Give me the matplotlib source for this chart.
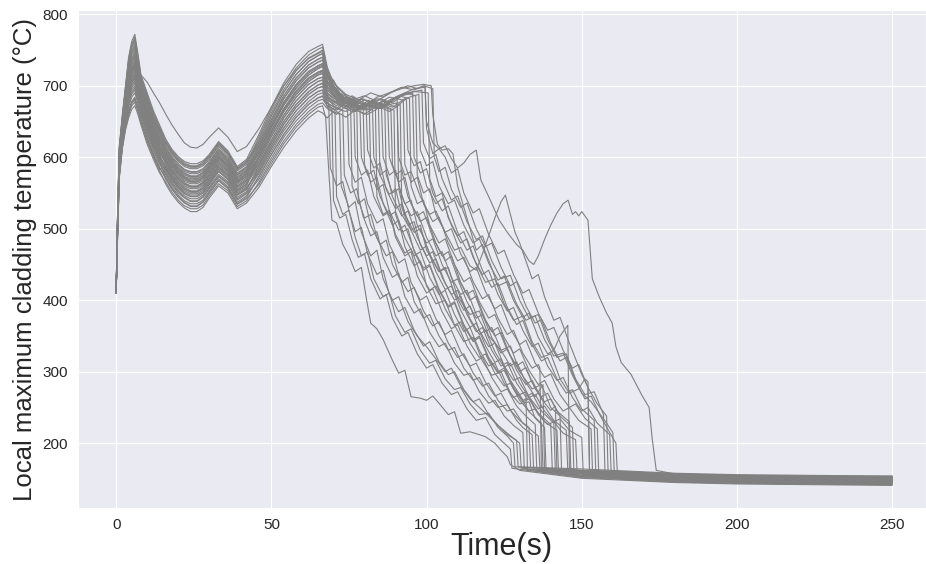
import matplotlib
matplotlib.use('Agg')
import matplotlib.pyplot as plt
import seaborn as sns

# time grid shared by all runs up to the second peak
early_t = [0, 0.3, 1, 2, 3, 4, 5, 6, 7, 8, 10, 12, 14, 16, 18, 20, 22, 24, 26, 28, 30, 33, 36, 39, 42, 46, 50, 54, 58, 62, 65]

# cladding temperature of each run on early_t
early_T = [
    [410, 465, 570, 612, 638, 655, 667, 672, 660, 645, 618, 597, 578, 565, 551, 540, 532, 528, 528, 533, 546, 563, 553, 531, 539, 565, 595, 623, 646, 664, 674],
    [410, 467, 572, 614, 641, 659, 672, 677, 664, 649, 622, 600, 581, 562, 548, 537, 529, 524, 524, 530, 543, 560, 550, 528, 536, 558, 587, 614, 637, 655, 665],
    [410, 468, 575, 617, 644, 664, 677, 682, 669, 652, 625, 604, 585, 572, 558, 547, 539, 535, 535, 540, 553, 570, 559, 537, 546, 573, 604, 632, 656, 674, 683],
    [410, 469, 575, 618, 645, 665, 678, 684, 670, 653, 627, 605, 586, 569, 555, 544, 536, 531, 531, 537, 549, 567, 556, 534, 542, 562, 591, 619, 642, 660, 670],
    [410, 470, 578, 621, 649, 670, 684, 690, 675, 658, 631, 609, 590, 577, 563, 552, 544, 539, 539, 545, 557, 574, 564, 542, 550, 580, 612, 641, 665, 683, 692],
    [410, 472, 580, 623, 652, 674, 688, 694, 679, 660, 634, 612, 593, 575, 561, 550, 543, 538, 538, 544, 556, 573, 562, 540, 549, 569, 599, 628, 651, 669, 679],
    [410, 473, 581, 624, 654, 676, 691, 697, 681, 663, 636, 614, 595, 582, 568, 557, 549, 545, 545, 550, 562, 580, 569, 547, 555, 588, 620, 650, 674, 692, 701],
    [410, 473, 583, 625, 655, 679, 694, 700, 684, 665, 638, 616, 597, 579, 565, 554, 546, 542, 542, 547, 559, 576, 566, 544, 552, 577, 608, 637, 660, 678, 688],
    [410, 475, 584, 627, 658, 682, 697, 704, 687, 667, 641, 619, 599, 585, 571, 560, 553, 549, 549, 554, 565, 583, 572, 550, 558, 580, 612, 641, 665, 683, 692],
    [410, 476, 586, 629, 660, 685, 700, 707, 690, 670, 643, 621, 601, 588, 574, 564, 556, 552, 552, 557, 569, 586, 575, 553, 562, 595, 629, 659, 684, 702, 710],
    [410, 476, 587, 630, 662, 687, 703, 710, 692, 672, 645, 623, 603, 584, 570, 559, 551, 547, 547, 552, 564, 581, 570, 548, 557, 584, 616, 646, 670, 688, 697],
    [410, 478, 589, 632, 664, 691, 707, 714, 696, 674, 648, 626, 606, 592, 578, 567, 560, 556, 556, 561, 572, 589, 578, 556, 565, 591, 624, 655, 679, 697, 706],
    [410, 479, 590, 634, 666, 693, 710, 717, 698, 677, 650, 628, 608, 595, 581, 571, 563, 559, 559, 564, 575, 593, 581, 559, 568, 602, 637, 668, 693, 711, 719],
    [410, 479, 592, 635, 668, 696, 713, 720, 701, 679, 653, 630, 610, 590, 576, 565, 558, 553, 553, 559, 570, 587, 576, 554, 563, 588, 620, 650, 674, 692, 701],
    [410, 480, 593, 636, 669, 698, 715, 722, 703, 680, 654, 631, 612, 598, 584, 574, 566, 563, 563, 567, 578, 596, 584, 562, 571, 595, 629, 659, 684, 702, 710],
    [410, 481, 594, 637, 671, 700, 717, 725, 705, 682, 656, 633, 614, 594, 580, 569, 562, 558, 558, 563, 574, 591, 580, 558, 567, 599, 633, 664, 688, 706, 715],
    [410, 482, 595, 639, 673, 703, 720, 728, 708, 684, 658, 635, 616, 602, 588, 577, 570, 566, 566, 571, 581, 599, 587, 565, 574, 606, 641, 673, 697, 715, 724],
    [410, 482, 596, 640, 674, 704, 722, 730, 709, 686, 660, 636, 617, 596, 582, 572, 564, 560, 560, 565, 576, 594, 582, 560, 569, 591, 624, 655, 679, 697, 706],
    [410, 484, 598, 642, 676, 708, 726, 734, 713, 688, 663, 639, 620, 605, 591, 581, 573, 570, 570, 574, 585, 602, 590, 568, 578, 610, 645, 677, 702, 720, 728],
    [410, 485, 599, 643, 678, 710, 729, 737, 715, 691, 665, 641, 622, 600, 586, 576, 568, 565, 565, 569, 580, 598, 586, 564, 573, 602, 637, 668, 693, 711, 719],
    [410, 485, 601, 645, 680, 713, 732, 740, 718, 693, 667, 643, 624, 608, 594, 584, 577, 573, 573, 578, 588, 606, 593, 571, 581, 614, 649, 682, 707, 725, 733],
    [410, 486, 602, 646, 681, 715, 734, 742, 720, 694, 668, 645, 625, 603, 589, 579, 571, 567, 567, 572, 583, 600, 588, 566, 576, 599, 633, 664, 688, 706, 715],
    [410, 487, 603, 647, 683, 717, 736, 745, 722, 696, 671, 647, 627, 612, 598, 587, 580, 577, 577, 581, 591, 609, 597, 575, 584, 617, 653, 686, 711, 729, 737],
    [410, 488, 604, 648, 685, 720, 739, 748, 725, 698, 673, 649, 629, 607, 593, 583, 575, 572, 572, 576, 587, 604, 592, 570, 580, 606, 641, 673, 697, 715, 724],
    [410, 489, 606, 650, 688, 723, 743, 752, 728, 701, 676, 651, 632, 615, 601, 591, 583, 580, 580, 584, 594, 612, 600, 578, 587, 621, 658, 691, 716, 734, 742],
    [410, 490, 607, 652, 689, 726, 746, 755, 731, 703, 678, 653, 634, 610, 596, 585, 578, 574, 574, 579, 589, 607, 595, 573, 582, 610, 645, 677, 702, 720, 728],
    [410, 491, 609, 653, 691, 728, 749, 758, 733, 705, 680, 655, 636, 618, 604, 594, 587, 584, 584, 588, 597, 615, 603, 581, 590, 625, 662, 695, 721, 739, 746],
    [410, 492, 611, 655, 694, 732, 753, 762, 737, 708, 683, 658, 638, 613, 599, 589, 582, 579, 579, 583, 593, 611, 598, 576, 586, 614, 649, 682, 707, 725, 733],
    [410, 493, 612, 657, 696, 734, 755, 765, 739, 710, 685, 660, 640, 620, 606, 596, 589, 586, 586, 590, 599, 617, 605, 583, 592, 628, 666, 700, 725, 743, 751],
    [410, 494, 613, 658, 698, 737, 758, 768, 742, 712, 687, 662, 642, 623, 609, 599, 592, 588, 588, 593, 602, 620, 607, 585, 595, 621, 658, 691, 716, 734, 742],
    [410, 495, 615, 660, 700, 740, 762, 772, 745, 715, 690, 665, 645, 625, 611, 601, 594, 591, 591, 595, 604, 622, 609, 587, 597, 632, 670, 704, 730, 748, 755],
    [410, 467, 574, 616, 643, 662, 675, 680, 667, 651, 624, 602, 583, 587, 573, 562, 555, 551, 551, 556, 567, 585, 574, 552, 560, 601, 635, 666, 691, 709, 717],
    [410, 477, 588, 631, 663, 689, 705, 712, 694, 673, 645, 618, 594, 570, 556, 545, 537, 532, 532, 538, 551, 568, 557, 535, 544, 573, 604, 632, 656, 674, 683],
    [410, 483, 597, 641, 675, 706, 724, 732, 711, 687, 661, 638, 618, 621, 607, 597, 590, 587, 587, 591, 601, 619, 606, 584, 594, 617, 653, 686, 711, 729, 737],
    [410, 482, 595, 638, 672, 702, 719, 727, 707, 684, 658, 628, 604, 582, 568, 557, 549, 545, 545, 550, 562, 580, 569, 547, 555, 584, 616, 646, 670, 688, 697],
    [410, 480, 590, 635, 668, 690, 705, 712, 716, 715, 705, 690, 676, 660, 645, 632, 620, 614, 613, 618, 628, 641, 628, 608, 615, 640, 670, 700, 722, 738, 745],
    [410, 478, 591, 635, 665, 692, 711, 716, 699, 676, 651, 627, 609, 604, 590, 580, 572, 568, 569, 574, 585, 602, 589, 567, 577, 608, 643, 675, 700, 718, 726],
]

# (time, temperature) after the second peak: plateau, quench, reflood, final level
late = [
    [(66.5, 676), (68, 668), (71, 660), (74, 672), (77, 664), (80, 676), (84.5, 670), (85, 575), (88, 548), (90, 556), (92, 520), (95, 498), (98, 505), (100, 470), (104, 440), (107, 446), (110, 405), (114, 380), (117, 385), (120, 350), (124, 330), (127, 336), (130, 300), (134, 276), (137, 282), (140, 250), (143, 238), (143.5, 160), (150, 155), (165, 152), (180, 149), (200, 147), (225, 146), (250, 145)],
    [(66.5, 662), (68, 655), (70, 664), (72, 660), (72.5, 560), (75, 530), (77, 538), (79, 495), (82, 462), (84, 470), (86, 430), (89, 400), (91, 405), (94, 370), (97, 350), (100, 335), (103, 318), (106, 300), (108, 305), (111, 280), (114, 262), (117, 250), (120, 238), (123, 225), (126, 214), (130, 200), (130.5, 165), (150, 159), (165, 156), (180, 153), (200, 151), (225, 150), (250, 149)],
    [(66.5, 686), (68, 676), (71, 668), (74, 680), (78, 672), (82, 666), (86, 678), (90, 670), (93.5, 682), (94, 610), (96, 588), (98, 594), (100, 560), (103, 535), (105, 542), (108, 505), (111, 480), (113, 486), (116, 450), (119, 425), (122, 430), (125, 395), (128, 372), (131, 378), (134, 342), (137, 320), (140, 325), (143, 290), (146, 270), (149, 276), (151, 290), (152, 286), (152.5, 159), (165, 157), (180, 154), (200, 152), (225, 151), (250, 151)],
    [(66.5, 672), (67.5, 655), (68.5, 580), (69.5, 512), (71, 508), (73, 478), (75, 462), (77, 440), (79, 446), (80.5, 405), (82, 368), (84, 360), (86, 345), (89, 316), (91, 298), (93, 302), (95, 265), (98, 263), (100, 260), (102, 266), (104, 256), (107, 240), (109, 244), (111, 214), (114, 216), (117, 212), (119, 209), (122, 200), (124, 190), (126, 181), (127, 170), (130, 162), (150, 151), (165, 148), (180, 145), (200, 143), (225, 142), (250, 141)],
    [(66.5, 694), (68, 680), (71, 672), (74, 684), (77, 676), (79.5, 682), (80, 590), (82, 565), (84, 572), (86, 535), (89, 505), (91, 512), (93, 475), (96, 448), (98, 455), (100, 420), (103, 395), (106, 400), (109, 365), (112, 342), (115, 348), (118, 315), (121, 295), (124, 300), (127, 270), (130, 255), (133, 258), (135, 235), (138, 222), (138.5, 164), (150, 161), (165, 158), (180, 155), (200, 153), (225, 152), (250, 152)],
    [(66.5, 681), (68, 672), (71, 666), (74, 676), (78, 668), (82, 678), (86, 670), (90, 682), (94, 690), (98.5, 694), (99, 620), (101, 598), (103, 604), (105, 570), (108, 540), (110, 546), (113, 510), (116, 485), (118, 490), (121, 455), (124, 430), (127, 435), (130, 400), (133, 375), (136, 380), (139, 345), (142, 320), (145, 325), (148, 290), (151, 268), (154, 272), (157, 240), (157.5, 155), (165, 153), (180, 150), (200, 148), (225, 147), (250, 146)],
    [(66.5, 704), (68, 688), (70, 675), (73, 684), (75.5, 678), (76, 560), (78, 535), (80, 542), (82, 505), (85, 478), (87, 484), (89, 450), (92, 425), (94, 432), (96, 398), (99, 375), (101, 380), (104, 350), (107, 330), (109, 334), (112, 305), (115, 288), (117, 292), (120, 266), (123, 250), (126, 254), (129, 232), (131, 222), (134, 212), (134.5, 163), (150, 158), (165, 155), (180, 152), (200, 150), (225, 149), (250, 148)],
    [(66.5, 690), (68, 676), (71, 668), (74, 664), (77, 674), (80, 666), (84, 676), (88.5, 668), (89, 590), (91, 565), (93, 572), (95, 535), (98, 510), (100, 516), (103, 480), (106, 455), (108, 462), (111, 425), (114, 400), (116, 406), (119, 372), (122, 350), (124, 355), (127, 322), (130, 300), (132, 306), (135, 276), (138, 258), (140, 262), (143, 238), (147, 222), (147.5, 158), (165, 154), (180, 151), (200, 149), (225, 148), (250, 147)],
    [(66.5, 694), (68, 670), (70.5, 662), (71, 545), (73, 520), (75, 526), (77, 488), (79, 462), (81, 468), (83, 430), (86, 405), (88, 410), (90, 378), (93, 355), (95, 360), (98, 330), (101, 312), (103, 316), (106, 290), (109, 275), (111, 278), (114, 255), (117, 240), (120, 242), (123, 222), (126, 210), (128, 200), (128.5, 167), (150, 162), (165, 159), (180, 156), (200, 154), (225, 153), (250, 153)],
    [(66.5, 712), (68, 690), (72, 676), (76, 682), (80, 672), (84, 684), (88, 690), (92, 696), (96, 700), (99, 702), (101.5, 700), (102, 660), (103.5, 618), (105, 610), (107, 612), (108.5, 605), (110, 560), (112, 530), (114, 500), (116, 470), (118, 478), (121, 445), (123, 420), (126, 426), (129, 395), (132, 372), (135, 378), (138, 345), (141, 322), (144, 326), (147, 295), (150, 270), (153, 258), (156, 240), (158, 228), (160, 215), (160.5, 156), (165, 155), (180, 152), (200, 150), (225, 149), (250, 148)],
    [(66.5, 699), (68, 684), (71, 676), (74, 668), (77, 678), (80, 672), (82.5, 680), (83, 600), (85, 575), (87, 582), (89, 545), (92, 518), (94, 525), (97, 488), (100, 462), (102, 468), (105, 432), (108, 408), (110, 414), (113, 380), (116, 356), (118, 362), (121, 330), (124, 308), (126, 313), (129, 284), (132, 265), (134, 270), (137, 245), (141, 228), (141.5, 159), (150, 154), (165, 151), (180, 148), (200, 146), (225, 145), (250, 144)],
    [(66.5, 708), (68, 690), (70, 680), (73, 672), (75, 680), (77.5, 674), (78, 540), (80, 515), (82, 520), (84, 488), (87, 462), (89, 468), (91, 435), (94, 412), (96, 418), (99, 385), (102, 364), (104, 370), (107, 340), (110, 320), (112, 325), (115, 298), (118, 280), (120, 284), (123, 260), (126, 245), (128, 248), (131, 228), (136, 210), (136.5, 164), (150, 160), (165, 157), (180, 154), (200, 152), (225, 151), (250, 150)],
    [(66.5, 722), (68, 700), (70, 708), (72, 690), (75, 676), (79, 668), (83, 678), (87, 672), (90.5, 684), (91, 560), (93, 535), (95, 540), (97, 505), (100, 480), (102, 486), (105, 450), (108, 425), (110, 430), (113, 398), (116, 375), (118, 380), (121, 348), (124, 326), (126, 332), (129, 302), (132, 282), (134, 288), (137, 262), (140, 246), (141.5, 252), (142, 158), (150, 153), (165, 150), (180, 147), (200, 145), (225, 144), (250, 143)],
    [(66.5, 703), (68, 676), (69.5, 668), (70, 540), (72, 515), (74, 520), (76, 485), (78, 460), (80, 465), (82, 430), (85, 402), (87, 408), (89, 375), (92, 350), (94, 355), (97, 325), (100, 305), (102, 310), (105, 284), (108, 268), (110, 272), (113, 248), (116, 232), (119, 236), (122, 212), (125, 200), (127, 192), (127.5, 165), (150, 152), (165, 149), (180, 146), (200, 144), (225, 143), (250, 142)],
    [(66.5, 712), (68, 694), (71, 680), (74, 670), (77, 680), (81, 672), (85, 682), (89, 676), (92, 686), (95.5, 690), (96, 600), (98, 578), (100, 584), (102, 550), (105, 525), (107, 532), (110, 495), (113, 470), (115, 476), (118, 442), (121, 418), (123, 424), (126, 390), (129, 366), (131, 372), (134, 338), (137, 315), (139, 320), (142, 290), (145, 270), (147, 275), (150, 248), (154, 232), (154.5, 161), (165, 160), (180, 157), (200, 155), (225, 154), (250, 154)],
    [(66.5, 718), (68, 696), (71, 682), (74, 672), (77, 664), (80.5, 674), (81, 610), (83, 585), (85, 592), (87, 555), (90, 528), (92, 535), (95, 498), (98, 470), (100, 476), (103, 440), (106, 415), (108, 420), (111, 386), (114, 362), (116, 368), (119, 336), (122, 313), (124, 318), (127, 288), (130, 268), (132, 272), (132.5, 162), (150, 155), (165, 152), (180, 149), (200, 147), (225, 146), (250, 145)],
    [(66.5, 727), (68, 705), (70, 688), (73, 676), (76, 686), (79, 678), (82, 670), (86.5, 680), (87, 575), (89, 550), (91, 556), (93, 520), (96, 495), (98, 500), (101, 465), (104, 440), (106, 446), (109, 410), (112, 386), (114, 392), (117, 358), (120, 335), (122, 340), (125, 308), (128, 288), (130, 292), (133, 265), (136, 248), (138, 252), (141, 232), (145, 218), (145.5, 161), (150, 159), (165, 156), (180, 153), (200, 151), (225, 150), (250, 149)],
    [(66.5, 708), (68, 684), (70, 672), (73, 666), (73.5, 575), (75.5, 550), (77.5, 556), (79.5, 518), (82, 490), (84, 496), (86, 460), (89, 432), (91, 438), (93, 405), (96, 382), (98, 388), (101, 355), (104, 335), (106, 340), (109, 312), (112, 295), (114, 298), (117, 272), (120, 256), (122, 260), (125, 238), (128, 225), (131, 215), (131.5, 164), (150, 157), (165, 154), (180, 151), (200, 149), (225, 148), (250, 147)],
    [(66.5, 731), (68, 706), (71, 688), (74, 676), (77, 666), (81, 674), (85, 668), (89, 680), (93, 690), (96, 696), (99.5, 698), (100, 640), (102, 605), (104, 612), (106, 600), (108, 578), (110, 584), (112, 550), (115, 522), (117, 528), (120, 492), (123, 465), (125, 470), (128, 436), (131, 410), (133, 415), (136, 382), (139, 358), (141, 362), (144, 330), (147, 305), (149, 310), (152, 278), (155, 255), (158, 238), (158.5, 155), (165, 153), (180, 150), (200, 148), (225, 147), (250, 146)],
    [(66.5, 721), (68, 700), (71, 684), (74, 672), (76, 680), (78.5, 672), (79, 600), (81, 575), (83, 582), (85, 545), (88, 518), (90, 524), (93, 488), (96, 462), (98, 468), (101, 432), (104, 408), (106, 414), (109, 380), (112, 356), (114, 362), (117, 330), (120, 308), (122, 312), (125, 284), (128, 264), (130, 268), (133, 244), (137, 228), (137.5, 164), (150, 161), (165, 158), (180, 155), (200, 153), (225, 152), (250, 151)],
    [(66.5, 736), (68, 712), (70, 694), (73, 682), (76, 672), (80, 680), (84, 674), (88, 684), (92.5, 680), (93, 590), (95, 565), (97, 572), (99, 535), (102, 510), (104, 516), (107, 480), (110, 455), (112, 460), (115, 426), (118, 402), (120, 408), (123, 375), (126, 352), (128, 358), (131, 326), (134, 305), (136, 310), (136.5, 305), (137, 160), (150, 154), (165, 151), (180, 148), (200, 146), (225, 145), (250, 144)],
    [(66.5, 717), (68, 690), (68.5, 670), (69, 585), (71, 560), (73, 566), (75, 525), (77, 496), (79, 502), (81, 465), (84, 436), (86, 442), (88, 408), (91, 384), (93, 390), (96, 358), (99, 336), (101, 342), (104, 314), (107, 296), (109, 300), (112, 275), (115, 258), (117, 262), (120, 240), (123, 225), (126, 212), (129, 204), (129.5, 167), (150, 164), (165, 161), (180, 158), (200, 156), (225, 155), (250, 154)],
    [(66.5, 740), (68, 716), (70, 696), (73, 684), (76, 674), (79, 682), (83.5, 676), (84, 545), (86, 520), (88, 526), (90, 492), (93, 466), (95, 472), (98, 438), (101, 414), (103, 420), (106, 388), (109, 365), (111, 370), (114, 340), (117, 320), (119, 325), (122, 298), (125, 280), (127, 284), (130, 260), (133, 245), (135, 248), (138, 230), (142, 218), (142.5, 161), (150, 158), (165, 155), (180, 152), (200, 150), (225, 149), (250, 148)],
    [(66.5, 727), (68, 704), (71, 688), (74, 676), (78, 668), (82, 678), (86, 672), (90, 684), (93, 690), (96.5, 686), (97, 575), (99, 550), (101, 556), (103, 520), (106, 495), (108, 500), (111, 465), (114, 440), (116, 446), (119, 412), (122, 388), (124, 394), (127, 360), (130, 338), (132, 344), (135, 312), (138, 292), (140, 297), (143, 268), (146, 250), (148, 255), (151, 235), (155, 220), (155.5, 153), (165, 149), (180, 146), (200, 144), (225, 143), (250, 142)],
    [(66.5, 745), (68, 718), (70, 698), (72, 684), (74.5, 676), (75, 590), (77, 565), (79, 572), (81, 535), (84, 508), (86, 514), (88, 478), (91, 452), (93, 458), (95, 425), (98, 400), (100, 406), (103, 374), (106, 352), (108, 358), (111, 328), (114, 308), (116, 312), (119, 285), (122, 266), (124, 270), (127, 246), (130, 232), (133, 222), (133.5, 166), (150, 162), (165, 159), (180, 156), (200, 154), (225, 153), (250, 152)],
    [(66.5, 731), (68, 708), (70, 690), (73, 678), (76, 670), (80, 660), (84, 672), (89.5, 666), (90, 520), (92, 495), (94, 500), (96, 468), (99, 442), (101, 448), (104, 414), (107, 390), (109, 396), (112, 364), (115, 342), (117, 348), (120, 318), (123, 298), (125, 302), (128, 276), (131, 258), (133, 262), (136, 240), (139, 226), (141, 230), (144, 214), (148, 205), (148.5, 160), (165, 157), (180, 154), (200, 152), (225, 151), (250, 150)],
    [(66.5, 750), (68, 722), (70, 700), (72, 688), (75, 678), (78, 670), (81.5, 680), (82, 580), (84, 555), (86, 562), (88, 525), (91, 498), (93, 505), (96, 470), (99, 445), (101, 450), (104, 416), (107, 392), (109, 398), (112, 366), (115, 344), (117, 350), (120, 320), (123, 300), (125, 305), (128, 278), (131, 260), (133, 264), (136, 242), (140, 226), (140.5, 163), (150, 161), (165, 158), (180, 155), (200, 153), (225, 152), (250, 152)],
    [(66.5, 736), (68, 712), (72, 690), (76, 680), (80, 686), (84, 678), (88, 690), (92, 698), (96, 694), (99, 700), (102, 696), (102.5, 600), (104, 580), (106, 586), (108, 555), (111, 530), (113, 536), (116, 500), (119, 475), (121, 480), (124, 446), (127, 420), (129, 426), (132, 392), (135, 368), (137, 373), (140, 340), (143, 315), (145, 320), (148, 288), (151, 262), (153, 266), (156, 238), (159, 215), (161, 200), (161.5, 154), (165, 153), (180, 150), (200, 148), (225, 147), (250, 146)],
    [(66.5, 754), (68, 724), (70, 700), (72, 686), (74, 676), (76.5, 684), (77, 600), (79, 575), (81, 582), (83, 545), (86, 518), (88, 524), (90, 488), (93, 462), (95, 468), (97, 434), (100, 410), (102, 416), (105, 384), (108, 360), (110, 366), (113, 336), (116, 315), (118, 320), (121, 292), (124, 272), (126, 276), (129, 252), (132, 238), (135, 226), (135.5, 162), (150, 157), (165, 154), (180, 151), (200, 149), (225, 148), (250, 147)],
    [(66.5, 745), (68, 718), (70, 698), (73, 684), (76, 674), (79, 666), (83, 676), (87.5, 670), (88, 600), (90, 575), (92, 582), (94, 545), (97, 518), (99, 524), (102, 488), (105, 462), (107, 468), (110, 432), (113, 408), (115, 414), (118, 380), (121, 356), (123, 362), (126, 330), (129, 308), (131, 314), (134, 285), (137, 265), (139, 270), (142, 245), (146, 230), (146.5, 160), (150, 159), (165, 156), (180, 153), (200, 151), (225, 150), (250, 150)],
    [(66.5, 758), (68, 726), (70, 704), (73, 690), (76, 680), (80, 672), (84, 682), (88, 676), (91, 686), (94.5, 682), (95, 560), (97, 535), (99, 540), (101, 505), (104, 480), (106, 486), (109, 450), (112, 426), (114, 432), (117, 398), (120, 375), (122, 380), (125, 348), (128, 326), (130, 332), (133, 302), (136, 282), (138, 288), (141, 262), (144, 245), (146, 250), (149, 232), (153, 220), (153.5, 155), (165, 152), (180, 149), (200, 147), (225, 146), (250, 145)],
    [(66.5, 720), (68, 698), (71, 682), (74, 672), (77, 664), (81, 674), (85.5, 668), (86, 600), (88, 575), (90, 582), (92, 545), (95, 518), (97, 524), (100, 488), (103, 462), (105, 468), (108, 432), (111, 408), (113, 414), (116, 380), (119, 356), (121, 362), (124, 330), (127, 308), (129, 314), (132, 285), (135, 265), (137.5, 282), (138, 164), (150, 160), (165, 157), (180, 154), (200, 152), (225, 151), (250, 151)],
    [(66.5, 685), (68, 672), (71, 664), (74, 656), (77, 666), (81, 660), (85, 670), (88, 664), (91.5, 674), (92, 530), (94, 505), (96, 510), (98, 478), (101, 452), (103, 458), (106, 424), (109, 400), (111, 406), (114, 374), (117, 352), (119, 358), (122, 328), (125, 306), (127, 312), (130, 284), (133, 264), (135, 268), (138, 245), (141, 230), (143, 234), (146, 218), (150, 208), (150.5, 154), (165, 150), (180, 147), (200, 145), (225, 144), (250, 143)],
    [(66.5, 740), (68, 714), (71, 694), (74, 682), (77, 674), (81, 666), (85, 676), (89, 670), (93, 682), (97.5, 688), (98, 610), (100, 588), (102, 594), (104, 560), (107, 535), (109, 540), (112, 505), (115, 480), (117, 486), (120, 452), (123, 428), (125, 434), (128, 400), (131, 376), (133, 382), (136, 348), (139, 325), (141, 330), (143, 350), (145.5, 365), (146, 166), (150, 158), (165, 155), (180, 152), (200, 150), (225, 149), (250, 149)],
    [(66.5, 699), (68, 684), (72, 672), (76, 664), (80, 674), (84, 668), (88, 680), (92, 688), (96, 692), (100.5, 690), (101, 570), (103, 545), (105, 550), (107, 515), (110, 490), (112, 496), (115, 460), (118, 436), (120, 442), (123, 408), (126, 385), (128, 390), (131, 358), (134, 335), (136, 340), (139, 308), (142, 288), (144, 292), (147, 264), (150, 245), (152, 250), (155, 228), (159, 212), (159.5, 156), (165, 154), (180, 151), (200, 149), (225, 148), (250, 147)],
    [(66.5, 748), (68, 720), (71, 700), (74, 688), (78, 680), (82, 690), (86, 684), (90, 694), (94, 700), (97, 696), (99.5, 700), (100, 650), (102, 620), (104, 612), (106, 616), (108, 598), (110, 585), (112, 592), (114, 604), (116, 610), (117.5, 568), (120, 545), (123.4, 512), (126, 495), (129, 478), (131, 470), (133, 455), (134.5, 450), (136, 462), (138, 485), (140, 505), (142, 522), (144, 535), (145.6, 540), (147, 520), (148, 524), (149, 518), (150, 524), (152, 512), (153.4, 430), (155.6, 405), (158, 382), (159.8, 368), (161, 335), (162.7, 313), (165.9, 296), (169.5, 266), (171.7, 250), (172.7, 206), (174, 162), (180, 157), (200, 154), (225, 153), (250, 153)],
    [(66.5, 729), (68, 706), (71, 688), (74, 676), (78, 668), (82, 678), (86, 672), (90.5, 676), (91, 600), (93, 575), (95, 580), (98, 545), (101, 520), (103, 525), (106, 495), (109, 470), (111, 474), (114, 448), (116, 442), (118, 465), (120, 490), (122, 515), (124, 538), (125.4, 547), (127, 520), (128.5, 495), (130, 480), (132, 455), (134, 430), (136, 436), (138, 405), (141, 372), (143, 376), (146, 340), (148, 318), (150, 296), (152, 278), (152.5, 162), (165, 160), (180, 157), (200, 155), (225, 154), (250, 153)],
]

sns.set_style('darkgrid')
plt.rcParams['font.family'] = ['Liberation Sans', 'DejaVu Sans']

fig = plt.figure(figsize=(9.26, 5.64), dpi=100)
ax = fig.add_axes([0.0839, 0.0988, 0.9161, 0.8835])

for T0, tail in zip(early_T, late):
    t = early_t + [p[0] for p in tail]
    T = T0 + [p[1] for p in tail]
    ax.plot(t, T, color='grey', lw=0.8)

ax.set_xlim(-12.4, 260.9)
ax.set_ylim(109, 806)
ax.set_xticks(range(0, 251, 50))
ax.set_yticks(range(200, 801, 100))
ax.tick_params(labelsize=11)
ax.set_xlabel('Time(s)', fontsize=22, labelpad=0)
ax.set_ylabel('Local maximum cladding temperature (°C)', fontsize=18.5)

fig.savefig('out.png', dpi=100)
